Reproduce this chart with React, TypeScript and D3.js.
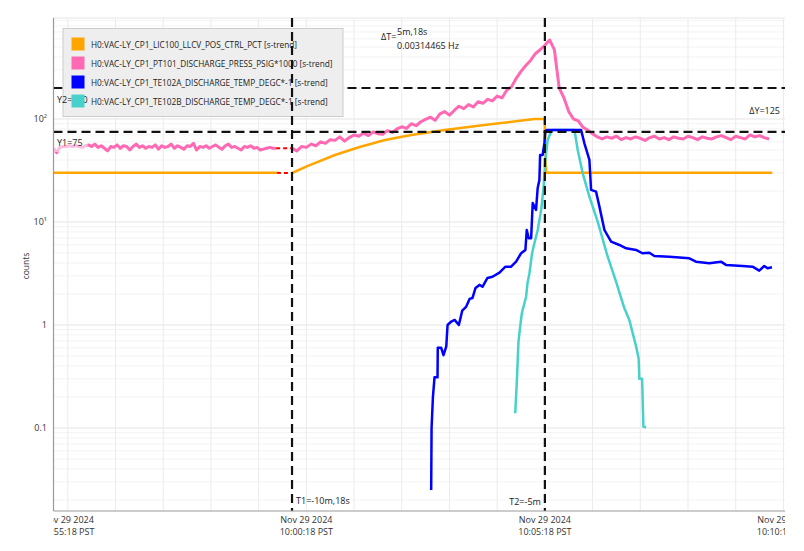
import React from "react";
import * as d3 from "d3";

const W = 804;
const H = 551;
const START_UTC = Date.UTC(2024, 10, 29, 17, 55, 0); // 09:55:00 PST
const SPAN_S = 920;

const seriesNames = [
  "H0:VAC-LY_CP1_LIC100_LLCV_POS_CTRL_PCT [s-trend]",
  "H0:VAC-LY_CP1_PT101_DISCHARGE_PRESS_PSIG*1000 [s-trend]",
  "H0:VAC-LY_CP1_TE102A_DISCHARGE_TEMP_DEGC*-1 [s-trend]",
  "H0:VAC-LY_CP1_TE102B_DISCHARGE_TEMP_DEGC*-1 [s-trend]",
];
const seriesColors = ["#FFA500", "#FF69B4", "#0000FF", "#48D1CC"];

// x ticks (seconds after 09:55:00 PST)
const xTickSeconds = [18, 318, 618, 918];
const xGridSeconds = [18, 78, 138, 198, 258, 318, 378, 438, 498, 558, 618, 678, 738, 798, 858, 918];
const yTickValues = [0.1, 1, 10, 100];
const yTickLabels = ["0.1", "1", "10¹", "10²"];
const yAxisLabel = "counts";

// cursors
const t1Seconds = 300;
const t2Seconds = 618;
const y1Value = 75;
const y2Value = 200;
const t1Label = "T1=-10m,18s";
const t2Label = "T2=-5m";
const dtLabel = "ΔT=";
const dtLine1 = "5m,18s";
const dtLine2 = "0.00314465 Hz";
const dyLabel = "ΔY=125";
const y1Label = "Y1=75";
const y2Label = "Y2=200";

// Orange (LIC100): before gap and after gap
const orangeATimes = [0, 281];
const orangeAValues = [30, 30];
const orangeBTimes = [300, 320, 354, 385, 417, 450, 492, 542, 584, 605, 617.6, 619.5, 904];
const orangeBValues = [29.9, 35, 44.7, 53.5, 62.5, 70, 78.2, 87.5, 95.6, 100, 100, 30, 30];

// Pink (PT101*1000): before gap sampled every 4 s from 0
const pinkAStep = 4;
const pinkAValues = [
  52, 47, 53, 54, 54, 55, 54, 55, 54, 53,
  55, 56, 54, 57, 53, 55, 52, 49, 54, 53,
  56, 52, 55, 54, 50, 54, 57, 53, 55, 52,
  54, 53, 56, 51, 55, 53, 54, 57, 52, 55,
  53, 51, 55, 54, 58, 50, 54, 53, 55, 52,
  54, 56, 53, 51, 55, 57, 53, 54, 52, 50,
  54, 53, 55, 52, 53, 50, 51, 52, 53, 52,
  52,
];
// after gap sampled every 6 s from 300
const pinkBStart = 300;
const pinkBStep = 6;
const pinkBValues = [
  52, 49, 54, 53, 57, 55, 60, 58, 63, 62,
  67, 61, 66, 70, 68, 73, 69, 75, 72, 71,
  77, 74, 80, 84, 81, 90, 86, 94, 99, 104,
  97, 112, 118, 109, 121, 133, 126, 138, 131, 147,
  142, 155, 150, 167, 160, 190, 205, 248, 290, 330,
  370, 430, 470, 520, 585, 468, 200, 160, 118, 100,
  96, 83, 78, 72, 67, 64, 67, 65, 68, 63,
  66, 64, 67, 65, 62, 66, 68, 64, 66, 63,
  67, 65, 64, 68, 66, 63, 67, 65, 64, 67,
  69, 66, 63, 68, 66, 64, 70, 67, 69, 66,
  64,
];

// Blue (TE102A*-1)
const blueTimes = [
  475, 475.5, 477.2, 479.2, 483, 483.3, 487.6, 490.5, 494, 495.6,
  500.3, 504.5, 509.8, 514.1, 519.1, 523.3, 527, 530.8, 535.7, 539.5,
  545.8, 552.1, 560.9, 568.4, 575.5, 581.8, 588.1, 593.5, 595.2, 597.7,
  600.7, 602.7, 606.9, 608.9, 611.1, 612, 615.2, 617.4, 618.6, 620,
  663.6, 667.7, 674, 676.1, 682.4, 686.6, 692.9, 701.3, 711.7, 720.2,
  732.7, 740.6, 749.4, 755.7, 774.5, 799.7, 808, 824.8, 839.5, 845.8,
  866.7, 879.2, 887.6, 893.9, 898, 903.6,
];
const blueValues = [
  0.025, 0.1, 0.2, 0.31, 0.31, 0.6, 0.6, 0.51, 0.62, 1.0,
  1.08, 1.12, 1.0, 1.38, 1.51, 1.79, 1.83, 2.29, 2.45, 2.35,
  2.86, 2.94, 3.22, 3.68, 3.68, 4.12, 4.97, 5.35, 8.36, 6.95,
  6.95, 15.3, 13.1, 21.2, 25.6, 44.7, 44.7, 58.5, 75.3, 78,
  78, 58.1, 40.0, 20.5, 19.7, 14.1, 8.36, 6.44, 5.98, 5.55,
  5.35, 4.97, 5.03, 4.68, 4.6, 4.44, 4.12, 3.97, 4.12, 3.83,
  3.74, 3.68, 3.37, 3.74, 3.55, 3.63,
];

// Cyan (TE102B*-1)
const cyanTimes = [
  580.7, 582.8, 584.8, 586.9, 589, 594.4, 596.1, 598.6, 601.9, 604.8,
  609, 613.3, 616.1, 618.6, 621.5, 625.8, 627, 655.2, 659.3, 665.6,
  674, 684.4, 697, 707.5, 718, 724.2, 732.7, 735.9, 736.8, 740.3,
  741.9, 745.3,
];
const cyanValues = [
  0.139, 0.29, 0.69, 0.96, 1.3, 1.88, 2.54, 3.18, 4.97, 6.21,
  8.36, 13.1, 20.5, 40.0, 62.5, 75.3, 78, 78, 50.0, 29.7,
  17.6, 10.07, 4.6, 2.63, 1.45, 1.12, 0.62, 0.475, 0.3, 0.3,
  0.103, 0.101,
];

const FONT = "'Open Sans', 'Noto Sans', sans-serif";

export default function App() {
  const left = 53.5;
  const right = 785;
  const top = 18;
  const bottom = 511;

  const toDate = (s: number) => new Date(START_UTC + s * 1000);
  const x = d3.scaleUtc().domain([toDate(0), toDate(SPAN_S)]).range([left, right]);
  const y = d3.scaleLog().domain([0.01563, 956]).range([bottom, top]);

  const line = d3
    .line<[number, number]>()
    .x((d) => x(toDate(d[0])))
    .y((d) => y(d[1]));

  const zip = (ts: number[], vs: number[]) => ts.map((t, i) => [t, vs[i]] as [number, number]);
  const orangeA = zip(orangeATimes, orangeAValues);
  const orangeB = zip(orangeBTimes, orangeBValues);
  const pinkA = pinkAValues.map((v, i) => [i * pinkAStep, v] as [number, number]);
  const pinkB = pinkBValues.map((v, i) => [pinkBStart + i * pinkBStep, v] as [number, number]);
  const blue = zip(blueTimes, blueValues);
  const cyan = zip(cyanTimes, cyanValues);

  const gapOrange: [number, number][] = [orangeA[orangeA.length - 1], orangeB[0]];
  const gapPink: [number, number][] = [pinkA[pinkA.length - 1], pinkB[0]];

  // minor log gridlines
  const minorVals: number[] = [];
  [0.01, 0.1, 1, 10, 100].forEach((d) => {
    for (let k = 2; k <= 9; k++) {
      const v = d * k;
      if (v > 0.01563 && v < 956) minorVals.push(v);
    }
  });

  const fmtDate = d3.utcFormat("%b %d %Y");
  const fmtTime = (dt: Date) => {
    const pst = new Date(dt.getTime() - 8 * 3600 * 1000);
    return d3.utcFormat("%H:%M:%S")(pst) + " PST";
  };

  const xT1 = x(toDate(t1Seconds));
  const xT2 = x(toDate(t2Seconds));
  const yY1 = y(y1Value);
  const yY2 = y(y2Value);
  const dash = "9,5";

  return (
    <svg
      width={W}
      height={H}
      style={{ position: "fixed", left: 0, top: 0, background: "#fff" }}
      fontFamily={FONT}
    >
      <defs>
        <clipPath id="plotClip">
          <rect x={left} y={top} width={right - left} height={bottom - top} />
        </clipPath>
        <clipPath id="xLabelClip">
          <rect x={left} y={bottom} width={right - left} height={40} />
        </clipPath>
      </defs>
      <rect x={0} y={0} width={W} height={H} fill="#fff" />

      {/* grid */}
      <g>
        {minorVals.map((v, i) => (
          <line key={"m" + i} x1={left} x2={right} y1={y(v)} y2={y(v)} stroke="#f3f3f3" strokeWidth={1} />
        ))}
        {yTickValues.map((v, i) => (
          <line key={"M" + i} x1={left} x2={right} y1={y(v)} y2={y(v)} stroke="#e4e4e4" strokeWidth={1} />
        ))}
        <line x1={left} x2={right} y1={top} y2={top} stroke="#e4e4e4" strokeWidth={1} />
        {xGridSeconds.map((s, i) => (
          <line key={"v" + i} x1={x(toDate(s))} x2={x(toDate(s))} y1={top} y2={bottom} stroke="#ebebeb" strokeWidth={1} />
        ))}
      </g>

      {/* series */}
      <g clipPath="url(#plotClip)" fill="none" strokeLinejoin="round">
        <path d={line(pinkA) || ""} stroke={seriesColors[1]} strokeWidth={3} />
        <path d={line(pinkB) || ""} stroke={seriesColors[1]} strokeWidth={3} />
        <path d={line(gapPink) || ""} stroke="#ff0000" strokeWidth={2} strokeDasharray="4,3" />
        <path d={line(orangeA) || ""} stroke={seriesColors[0]} strokeWidth={2.5} />
        <path d={line(orangeB) || ""} stroke={seriesColors[0]} strokeWidth={2.5} />
        <path d={line(gapOrange) || ""} stroke="#ff0000" strokeWidth={2} strokeDasharray="4,3" />
        <path d={line(cyan) || ""} stroke={seriesColors[3]} strokeWidth={2.5} />
        <path d={line(blue) || ""} stroke={seriesColors[2]} strokeWidth={2.5} />
      </g>

      {/* horizontal cursors */}
      <line x1={left} x2={right} y1={yY1} y2={yY1} stroke="#111" strokeWidth={2.2} strokeDasharray={dash} />
      <line x1={left} x2={right} y1={yY2} y2={yY2} stroke="#111" strokeWidth={2.2} strokeDasharray={dash} />

      {/* Y1 label with translucent background */}
      <rect x={left} y={135} width={34} height={17} fill="#fff" opacity={0.55} />
      <text x={57} y={142} fontSize={9} fill="#222" dominantBaseline="central">{y1Label}</text>

      {/* legend */}
      <rect x={63} y={28.5} width={280} height={88} fill="#eeeeee" stroke="#cccccc" strokeWidth={1} />
      <text x={57} y={99} fontSize={9} fill="#222" dominantBaseline="central">{y2Label}</text>
      {seriesNames.map((n, i) => (
        <g key={n}>
          <rect x={71.5} y={37.5 + i * 19} width={13} height={13} fill={seriesColors[i]} />
          <text x={91} y={44 + i * 19} fontSize={8.25} fill="#222" dominantBaseline="central">{n}</text>
        </g>
      ))}

      {/* vertical cursors */}
      <line x1={xT1} x2={xT1} y1={top} y2={bottom} stroke="#111" strokeWidth={2.2} strokeDasharray={dash} />
      <line x1={xT2} x2={xT2} y1={top} y2={bottom} stroke="#111" strokeWidth={2.2} strokeDasharray={dash} />

      {/* cursor labels */}
      <text x={xT1 + 4} y={500} fontSize={9} fill="#222" dominantBaseline="central">{t1Label}</text>
      <text x={xT2 - 4} y={501} fontSize={9} fill="#222" textAnchor="end" dominantBaseline="central">{t2Label}</text>
      <text x={381} y={36} fontSize={9} fill="#222" dominantBaseline="central">{dtLabel}</text>
      <text x={397} y={31} fontSize={9} fill="#222" dominantBaseline="central">{dtLine1}</text>
      <text x={397} y={45} fontSize={9} fill="#222" dominantBaseline="central">{dtLine2}</text>
      <text x={780} y={110} fontSize={9} fill="#222" textAnchor="end" dominantBaseline="central">{dyLabel}</text>

      {/* axes */}
      <line x1={left} x2={left} y1={top} y2={bottom} stroke="#999" strokeWidth={1.2} />
      <line x1={left} x2={right} y1={bottom} y2={bottom} stroke="#999" strokeWidth={1.2} />

      {yTickValues.map((v, i) => (
        <text key={"yt" + i} x={47} y={y(v)} fontSize={9} fill="#333" textAnchor="end" dominantBaseline="central">
          {yTickLabels[i]}
        </text>
      ))}
      <text
        transform={`translate(25, 266) rotate(-90)`}
        fontSize={8.5}
        fill="#333"
        textAnchor="middle"
        dominantBaseline="central"
      >
        {yAxisLabel}
      </text>

      <g clipPath="url(#xLabelClip)">
        {xTickSeconds.map((s, i) => {
          const d = toDate(s);
          const xx = x(d);
          return (
            <g key={"xt" + i}>
              <text x={xx} y={519.5} fontSize={9} fill="#333" textAnchor="middle" dominantBaseline="central">
                {fmtDate(d)}
              </text>
              <text x={xx} y={531} fontSize={9} fill="#333" textAnchor="middle" dominantBaseline="central">
                {fmtTime(d)}
              </text>
            </g>
          );
        })}
      </g>
    </svg>
  );
}
